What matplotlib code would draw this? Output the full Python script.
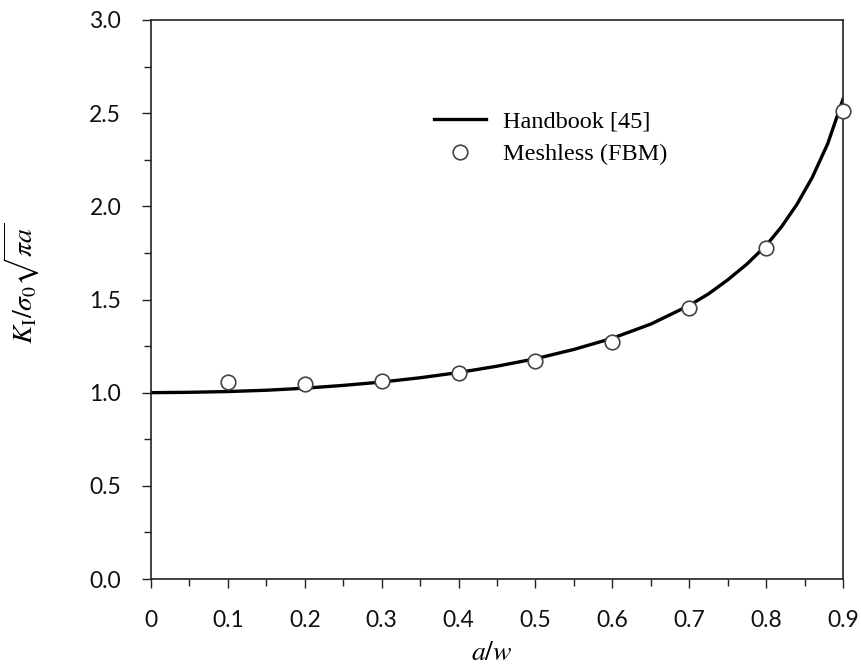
import matplotlib
matplotlib.use('Agg')
import matplotlib.pyplot as plt
from matplotlib.ticker import MultipleLocator, FormatStrFormatter, FuncFormatter

# Handbook curve
aw_curve = [0.0, 0.05, 0.1, 0.15, 0.2, 0.25, 0.3, 0.35, 0.4, 0.45, 0.5, 0.55,
            0.6, 0.65, 0.7, 0.725, 0.75, 0.775, 0.8, 0.82, 0.84, 0.86, 0.88, 0.9]
k_curve = [1.000, 1.002, 1.006, 1.013, 1.024, 1.039, 1.057, 1.080, 1.108, 1.142,
           1.182, 1.232, 1.292, 1.368, 1.468, 1.530, 1.605, 1.690, 1.790,
           1.890, 2.010, 2.155, 2.335, 2.575]

# Meshless (FBM) points
aw_pts = [0.1, 0.2, 0.3, 0.4, 0.5, 0.6, 0.7, 0.8, 0.9]
k_pts = [1.056, 1.047, 1.062, 1.104, 1.170, 1.274, 1.455, 1.777, 2.512]

plt.rcParams['mathtext.fontset'] = 'stix'

fig = plt.figure(figsize=(8.61, 6.70), dpi=100)
ax = fig.add_axes([151/861, 91/670, 692/861, 559/670])

ax.plot(aw_curve, k_curve, color='black', lw=2.4, label='Handbook [45]', zorder=2)
ax.plot(aw_pts, k_pts, 'o', ms=10.5, mfc='white', mec='#444444', mew=1.2,
        label='Meshless (FBM)', zorder=3, clip_on=False)

ax.set_xlim(0, 0.9)
ax.set_ylim(0, 3.0)
ax.xaxis.set_major_locator(MultipleLocator(0.1))
ax.xaxis.set_minor_locator(MultipleLocator(0.05))
ax.yaxis.set_major_locator(MultipleLocator(0.5))
ax.yaxis.set_minor_locator(MultipleLocator(0.25))
ax.xaxis.set_major_formatter(FuncFormatter(lambda v, p: '0' if abs(v) < 1e-9 else '%.1f' % v))
ax.yaxis.set_major_formatter(FormatStrFormatter('%.1f'))

ax.tick_params(which='major', direction='out', length=6.5, width=1.0, color='#222222',
               labelsize=16.5, labelcolor='#111111')
ax.tick_params(axis='x', which='major', pad=16)
ax.tick_params(axis='y', which='major', pad=15)
ax.tick_params(which='minor', direction='out', length=5, width=1.0, color='#222222')
for lab in ax.get_xticklabels() + ax.get_yticklabels():
    lab.set_fontfamily('Lato')
for s in ax.spines.values():
    s.set_linewidth(1.2)
    s.set_color('#222222')

ax.set_xlabel(r'$a/w$', fontsize=20)
ax.xaxis.set_label_coords(0.493, -0.106)
ax.set_ylabel(r'$K_\mathrm{I}/\sigma_0\sqrt{\pi a}$', fontsize=20)
ax.yaxis.set_label_coords(-0.158, 0.528)

ax.legend(loc='upper left', bbox_to_anchor=(0.409, 0.838), frameon=False,
          borderpad=0, borderaxespad=0, handlelength=2.15, handletextpad=0.7,
          labelspacing=0.45, prop={'family': 'Liberation Serif', 'size': 17.5})

fig.savefig('out.png', dpi=100)
